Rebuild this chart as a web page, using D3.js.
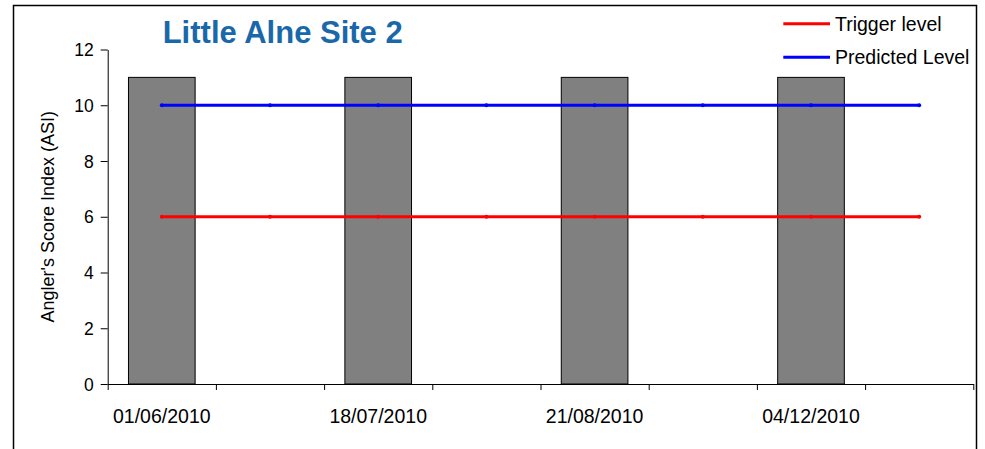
<!DOCTYPE html>
<html>
<head>
<meta charset="utf-8">
<script src="https://cdn.jsdelivr.net/npm/d3@7"></script>
<style>
  body { margin: 0; background: #fff; }
  text { font-family: "Liberation Sans", Arial, sans-serif; fill: #000; }
  .axis path, .axis line { stroke: #000; stroke-width: 1; }
</style>
</head>
<body>
<svg id="chart"></svg>
<script>
// chart data
const dates = ['01/06/2010', '', '18/07/2010', '', '21/08/2010', '', '04/12/2010', ''];
const asiScores = [11, 0, 11, 0, 11, 0, 11, 0];
const triggerLevel = [6, 6, 6, 6, 6, 6, 6, 6];
const predictedLevel = [10, 10, 10, 10, 10, 10, 10, 10];
const yTicks = [0, 2, 4, 6, 8, 10, 12];

const width = 985, height = 449;
const margin = {top: 49.5, right: 11.7, bottom: 65, left: 107.7};
const innerW = width - margin.left - margin.right;
const innerH = height - margin.top - margin.bottom;

const svg = d3.select('#chart')
    .attr('width', width)
    .attr('height', height);

svg.append('rect')
    .attr('width', width).attr('height', height)
    .attr('fill', '#fff');

// outer frame (chart area border)
svg.append('path')
    .attr('d', `M13.5,${height + 2} V5.5 H976.5 V${height + 2}`)
    .attr('fill', 'none')
    .attr('stroke', '#000')
    .attr('stroke-width', 1.5);

const chart = svg.append('g')
    .attr('transform', `translate(${margin.left},${margin.top})`);

const idx = d3.range(dates.length);

const x = d3.scaleBand()
    .domain(idx)
    .range([0, innerW])
    .padding(0);

// boundary scale for the category tick marks
const xEdge = d3.scaleLinear()
    .domain([0, dates.length])
    .range([0, innerW]);

const y = d3.scaleLinear()
    .domain([0, 12])
    .range([innerH, 0]);

// bars
const barFrac = 0.616;
chart.selectAll('.bar')
    .data(idx.filter(i => asiScores[i] > 0))
  .join('rect')
    .attr('class', 'bar')
    .attr('x', i => x(i) + x.bandwidth() * (1 - barFrac) / 2)
    .attr('width', x.bandwidth() * barFrac)
    .attr('y', i => y(asiScores[i]))
    .attr('height', i => innerH - y(asiScores[i]))
    .attr('fill', '#808080')
    .attr('stroke', '#000')
    .attr('stroke-width', 1);

// axes
const yAxis = d3.axisLeft(y)
    .tickValues(yTicks)
    .tickSize(7)
    .tickPadding(7)
    .tickSizeOuter(0);

const yAxisG = chart.append('g')
    .attr('class', 'axis y-axis')
    .call(yAxis);
yAxisG.selectAll('text')
    .style('font-size', '17.5px')
    .attr('dy', '0.35em');

const xAxis = d3.axisBottom(xEdge)
    .tickValues(d3.range(dates.length + 1))
    .tickFormat('')
    .tickSize(6)
    .tickSizeOuter(0);

chart.append('g')
    .attr('class', 'axis x-axis')
    .attr('transform', `translate(0,${innerH})`)
    .call(xAxis);

chart.append('g')
    .selectAll('text')
    .data(idx.filter(i => dates[i] !== ''))
  .join('text')
    .attr('x', i => x(i) + x.bandwidth() / 2)
    .attr('y', innerH + 39)
    .attr('text-anchor', 'middle')
    .style('font-size', '19.5px')
    .text(i => dates[i]);

// level lines
const line = d3.line()
    .x((d, i) => x(i) + x.bandwidth() / 2)
    .y(d => y(d));

const series = [
  {name: 'Trigger level', values: triggerLevel, color: '#ff0000'},
  {name: 'Predicted Level', values: predictedLevel, color: '#0000ff'}
];

series.forEach(s => {
  chart.append('path')
      .datum(s.values)
      .attr('d', line)
      .attr('fill', 'none')
      .attr('stroke', s.color)
      .attr('stroke-width', 3);
  chart.selectAll(null)
      .data(s.values)
    .join('circle')
      .attr('cx', (d, i) => x(i) + x.bandwidth() / 2)
      .attr('cy', d => y(d))
      .attr('r', 2)
      .attr('fill', s.color);
});

// y axis title
svg.append('text')
    .attr('transform', `translate(54,${margin.top + innerH / 2}) rotate(-90)`)
    .attr('text-anchor', 'middle')
    .style('font-size', '18px')
    .text("Angler's Score Index (ASI)");

// chart title
svg.append('text')
    .attr('x', 162.7)
    .attr('y', 42.7)
    .style('font-size', '31px')
    .style('font-weight', 'bold')
    .style('fill', '#1a68aa')
    .text('Little Alne Site 2');

// legend
const legend = svg.append('g');
series.forEach((s, i) => {
  const ly = 23.7 + i * 33.6;
  legend.append('line')
      .attr('x1', 783.3).attr('x2', 830)
      .attr('y1', ly).attr('y2', ly)
      .attr('stroke', s.color)
      .attr('stroke-width', 3);
  legend.append('text')
      .attr('x', 835)
      .attr('y', ly + 7)
      .style('font-size', '19.5px')
      .text(s.name);
});
</script>
</body>
</html>
